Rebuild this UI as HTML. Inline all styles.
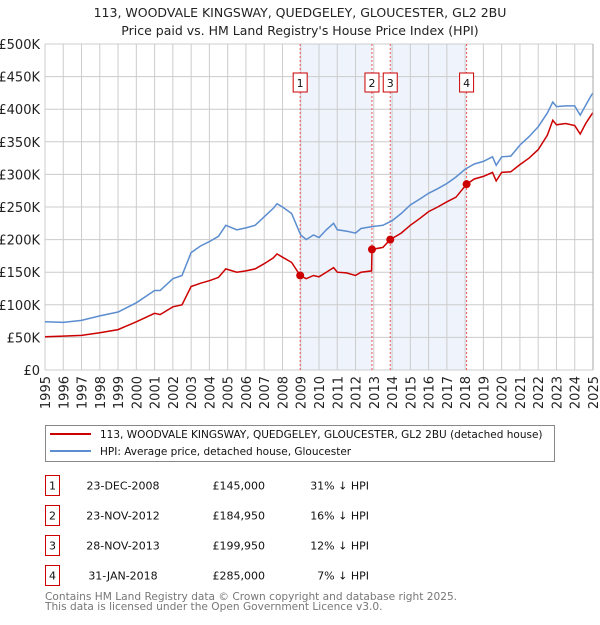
<!DOCTYPE html>
<html><head><meta charset="utf-8"><style>
body{margin:0;background:#fff;font-family:"Liberation Sans","DejaVu Sans",sans-serif;}
svg text{font-family:"DejaVu Sans","Liberation Sans",sans-serif;}
</style></head><body>
<svg id="c" width="600" height="620" xmlns="http://www.w3.org/2000/svg">
<text x="300" y="17" text-anchor="middle" font-size="12.5" fill="#222">113, WOODVALE KINGSWAY, QUEDGELEY, GLOUCESTER, GL2 2BU</text>
<text x="300" y="35" text-anchor="middle" font-size="12.5" fill="#222">Price paid vs. HM Land Registry's House Price Index (HPI)</text>
<g id="plot"></g>
<rect x="45.5" y="425.5" width="509" height="36" fill="#fff" stroke="#888"/>
<line x1="50" y1="434" x2="91" y2="434" stroke="#cc0000" stroke-width="2"/>
<text x="100" y="438" font-size="10.5" fill="#111">113, WOODVALE KINGSWAY, QUEDGELEY, GLOUCESTER, GL2 2BU (detached house)</text>
<line x1="50" y1="451" x2="91" y2="451" stroke="#5b8dd0" stroke-width="2"/>
<text x="100" y="455" font-size="10.5" fill="#111">HPI: Average price, detached house, Gloucester</text>
<g id="table"></g>
<text x="45" y="600" font-size="10.6" fill="#777">Contains HM Land Registry data © Crown copyright and database right 2025.</text>
<text x="45" y="610" font-size="10.6" fill="#777">This data is licensed under the Open Government Licence v3.0.</text>
</svg>
<script>
const hpiYears=[1995,1996,1997,1998,1999,2000,2001,2001.3,2002,2002.5,2003,2003.5,2004,2004.5,2004.9,2005.5,2006,2006.5,2007,2007.5,2007.7,2008,2008.5,2009,2009.3,2009.7,2010,2010.4,2010.8,2011,2011.5,2012,2012.3,2012.9,2013.5,2014,2014.5,2015,2015.5,2016,2016.5,2017,2017.5,2018,2018.5,2019,2019.5,2019.7,2020,2020.5,2021,2021.5,2022,2022.5,2022.8,2023,2023.5,2024,2024.3,2024.6,2024.9,2025];
const hpiValues=[74,73,76,83,89,103,122,122,140,145,180,190,197,205,222,215,218,222,235,248,255,250,240,207,200,207,203,215,225,215,213,210,217,220,222,229,240,253,262,271,278,286,296,308,316,320,327,314,327,328,345,358,373,394,411,404,405,405,391,406,421,425];
const redYears=[1995,1996,1997,1998,1999,2000,2001,2001.3,2002,2002.5,2003,2003.5,2004,2004.5,2004.9,2005.5,2006,2006.5,2007,2007.5,2007.7,2008,2008.5,2008.97,2009.3,2009.7,2010,2010.4,2010.8,2011,2011.5,2012,2012.3,2012.88,2012.9,2013.5,2013.9,2014.5,2015,2015.5,2016,2016.5,2017,2017.5,2018.08,2018.5,2019,2019.5,2019.7,2020,2020.5,2021,2021.5,2022,2022.5,2022.8,2023,2023.5,2024,2024.3,2024.6,2024.9,2025];
const redValues=[51,52,53,57,62,74,87,85,97,100,128,133,137,142,155,150,152,155,163,172,178,173,165,145,140,145,143,150,157,150,149,145,150,152,185,188,200,210,222,232,243,250,258,265,285,293,297,303,290,303,304,315,325,338,360,383,376,378,375,362,378,391,395];
const saleYears=[2008.97,2012.9,2013.9,2018.08];
const saleValues=[145000,184950,199950,285000];
const saleLabels=["1","2","3","4"];
const saleDates=["23-DEC-2008","23-NOV-2012","28-NOV-2013","31-JAN-2018"];
const salePrices=["£145,000","£184,950","£199,950","£285,000"];
const saleHpi=["31% ↓ HPI","16% ↓ HPI","12% ↓ HPI","7% ↓ HPI"];
const yTicks=[0,50000,100000,150000,200000,250000,300000,350000,400000,450000,500000];
const yTickLabels=["£0","£50K","£100K","£150K","£200K","£250K","£300K","£350K","£400K","£450K","£500K"];
const xTicks=[];for(let y=1995;y<=2025;y++)xTicks.push(y);

const NS="http://www.w3.org/2000/svg";
const X0=45,X1=593,Y0=370,Y1=44;
const xs=y=>X0+(y-1995)/30*(X1-X0);
const ys=v=>Y0-v/500000*(Y0-Y1);
const plot=document.getElementById('plot');
function mk(tag,attrs,parent){const e=document.createElementNS(NS,tag);for(const k in attrs)e.setAttribute(k,attrs[k]);(parent||plot).appendChild(e);return e;}

for(const [a,b] of [[0,1],[2,3]]){
  const r=mk('rect',{x:xs(saleYears[a]),y:Y1,width:xs(saleYears[b])-xs(saleYears[a]),height:Y0-Y1,fill:'#eef3fc'});
  
  
}
yTicks.forEach((v,i)=>{
  const l=mk('line',{x1:X0,x2:X1,y1:ys(v),y2:ys(v),stroke:'#ccc','stroke-width':1});
  
  
  const t=mk('text',{x:40,y:ys(v)+5,'text-anchor':'end','font-size':13,fill:'#222'});
  t.textContent=yTickLabels[i];
  
  
});
xTicks.forEach(y=>{
  const l=mk('line',{x1:xs(y),x2:xs(y),y1:Y1,y2:Y0,stroke:'#ccc','stroke-width':1});
  
  
  const t=mk('text',{x:0,y:0,'text-anchor':'end','font-size':13,fill:'#222',transform:`translate(${xs(y)+5},376) rotate(-90)`});
  t.textContent=y;
  
  
});
saleYears.forEach((y,i)=>{
  const l=mk('line',{x1:xs(y),x2:xs(y),y1:Y1,y2:Y0,stroke:'#e55','stroke-width':1,'stroke-dasharray':'2,2'});
  
  
  const r=mk('rect',{x:xs(y)-7,y:73,width:14,height:19,fill:'#fff',stroke:'#cc0000'});
  
  
  const t=mk('text',{x:xs(y),y:87,'text-anchor':'middle','font-size':11,fill:'#111'});
  t.textContent=saleLabels[i];
  
  
});
function line(xa,va,color,name){
  const d=xa.map((y,i)=>(i?'L':'M')+xs(y).toFixed(1)+','+ys(va[i]*1000).toFixed(1)).join('');
  const p=mk('path',{d:d,fill:'none',stroke:color,'stroke-width':1.5});
  
  
}
line(hpiYears,hpiValues,'#5b8dd0','hpi-line');
line(redYears,redValues,'#cc0000','price-paid-line');
saleYears.forEach((y,i)=>{
  const c=mk('circle',{cx:xs(y),cy:ys(saleValues[i]),r:4,fill:'#cc0000'});
  
  
});
const ax=mk('line',{x1:X1,x2:X1,y1:Y1,y2:Y0,stroke:'#aaa'});



const tb=document.getElementById('table');
saleLabels.forEach((s,i)=>{
  const top=475.5+i*30;
  const r=mk('rect',{x:45.5,y:top,width:14,height:20,fill:'#fff',stroke:'#cc0000'},tb);
  
  
  const cells=[[52.5,'middle',s,'table-row-number'],[123,'middle',saleDates[i],'table-date'],[265,'end',salePrices[i],'table-price'],[369,'end',saleHpi[i],'table-hpi-diff']];
  cells.forEach(c=>{
    const t=mk('text',{x:c[0],y:top+14,'text-anchor':c[1],'font-size':11,fill:'#111'},tb);
    t.textContent=c[2];
    
    
  });
});
</script>
</body></html>
